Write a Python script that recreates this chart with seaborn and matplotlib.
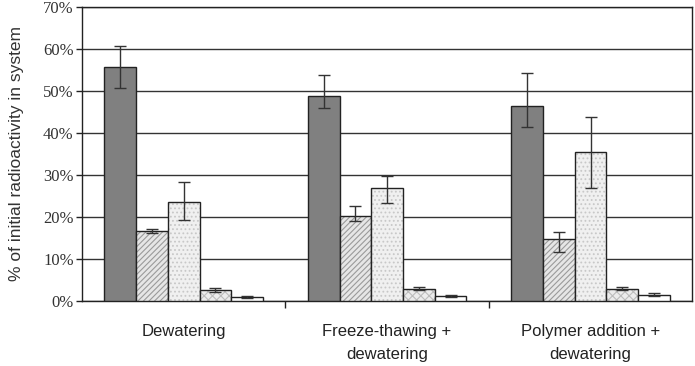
import numpy as np
import pandas as pd
import matplotlib
matplotlib.use("Agg")
import matplotlib.pyplot as plt
import seaborn as sns

# Data (% of initial radioactivity)
groups = ["Dewatering", "Freeze-thawing +\ndewatering", "Polymer addition +\ndewatering"]
fractions = ["F1", "F2", "F3", "F4", "F5"]
values = {
    "F1": [55.8, 48.9, 46.3],
    "F2": [16.7, 20.1, 14.7],
    "F3": [23.6, 26.8, 35.5],
    "F4": [2.6, 2.9, 2.9],
    "F5": [0.9, 1.2, 1.5],
}
err_low = {
    "F1": [5.2, 2.9, 4.8],
    "F2": [0.5, 1.1, 3.0],
    "F3": [4.3, 3.5, 8.7],
    "F4": [0.4, 0.3, 0.3],
    "F5": [0.2, 0.2, 0.3],
}
err_high = {
    "F1": [5.0, 4.9, 8.0],
    "F2": [0.5, 2.6, 1.7],
    "F3": [4.7, 3.0, 8.2],
    "F4": [0.4, 0.3, 0.3],
    "F5": [0.2, 0.2, 0.3],
}

rows = []
for f in fractions:
    for g, v in zip(groups, values[f]):
        rows.append({"group": g, "fraction": f, "value": v})
df = pd.DataFrame(rows)

sns.set_style("white")
plt.rcParams["hatch.linewidth"] = 0.8

fig = plt.figure(figsize=(6.95, 3.66), dpi=100)
ax = fig.add_axes([0.118, 0.178, 0.878, 0.803])

colors = ["#808080", "#e6e6e6", "#f0f0f0", "#ececec", "#ffffff"]
sns.barplot(data=df, x="group", y="value", hue="fraction", order=groups,
            hue_order=fractions, palette=colors, width=0.78, errorbar=None,
            legend=False, ax=ax, zorder=3)

hatches = [None, "//////", "....", "xxxx", None]
hatch_cols = ["#808080", "#9a9a9a", "#c8c8c8", "#bdbdbd", "#ffffff"]
for cont, f, h, hc in zip(ax.containers, fractions, hatches, hatch_cols):
    xs = []
    for bar in cont:
        bar.set_edgecolor("#222222")
        bar.set_linewidth(1.0)
        if h:
            bar.set_hatch(h)
            bar._hatch_color = matplotlib.colors.to_rgba(hc)
        xs.append(bar.get_x() + bar.get_width() / 2)
    ax.errorbar(xs, values[f], yerr=[err_low[f], err_high[f]], fmt="none",
                ecolor="#333333", elinewidth=1.0, capsize=4, capthick=1.0, zorder=4)

# Axes styling
ax.set_ylim(0, 70)
ax.set_xlim(-0.5, 2.5)
ax.set_yticks(np.arange(0, 71, 10))
ax.set_yticklabels([f"{t}%" for t in range(0, 71, 10)],
                   fontfamily="Liberation Serif", fontsize=12, color="#333333")
ax.yaxis.grid(True, color="#333333", linewidth=1.0)
ax.set_axisbelow(True)
ax.tick_params(axis="y", direction="out", length=4, width=1, color="#222222", left=True, pad=2)

ax.set_xticks(range(3))
ax.set_xticklabels(groups, fontfamily="Liberation Sans", fontsize=12, linespacing=1.6,
                   color="#222222")
ax.tick_params(axis="x", which="major", length=0, pad=17)
ax.set_xticks([0.5, 1.5], minor=True)
ax.tick_params(axis="x", which="minor", bottom=True, direction="out", length=5,
               width=1, color="#222222")

for s in ax.spines.values():
    s.set_visible(True)
    s.set_color("#222222")
    s.set_linewidth(1.0)

ax.set_xlabel("")
ax.set_ylabel("% of initial radioactivity in system", fontfamily="Liberation Sans",
              fontsize=12.5, color="#333333", labelpad=14)

fig.savefig("out.png", dpi=100)
